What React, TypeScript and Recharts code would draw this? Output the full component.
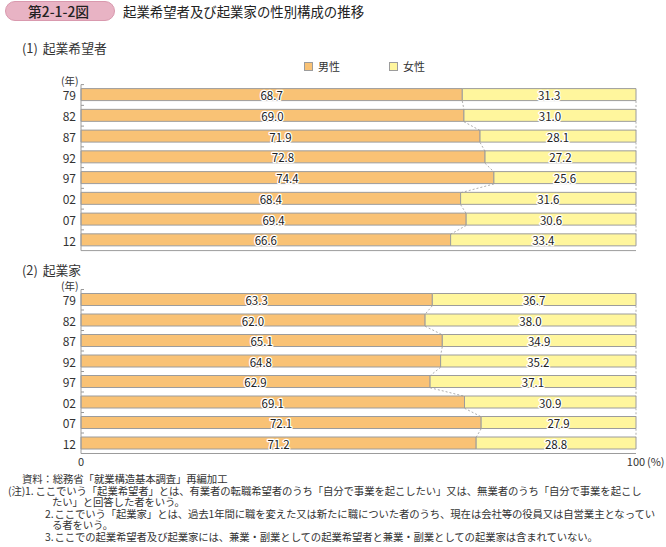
import {
  BarChart,
  Bar,
  XAxis,
  YAxis,
  ReferenceLine,
  LabelList,
} from 'recharts';

const years = ['79', '82', '87', '92', '97', '02', '07', '12'];
const hopefulMale = [68.7, 69.0, 71.9, 72.8, 74.4, 68.4, 69.4, 66.6];
const hopefulFemale = [31.3, 31.0, 28.1, 27.2, 25.6, 31.6, 30.6, 33.4];
const founderMale = [63.3, 62.0, 65.1, 64.8, 62.9, 69.1, 72.1, 71.2];
const founderFemale = [36.7, 38.0, 34.9, 35.2, 37.1, 30.9, 27.9, 28.8];
const xTicks = [0, 100];

const MALE = '#F9C275';
const FEMALE = '#FFF69D';
const EDGE = '#9C9C9C';
const FONT = '"Noto Sans CJK JP", "Noto Sans", sans-serif';
const BAR = 12;

const buildRows = (male: number[], female: number[]) =>
  years.map((y, i) => ({ year: y, male: male[i], female: female[i] }));

const renderValue = (props: any) => {
  const { x, y, width, height, value } = props;
  return (
    <text
      x={x + width / 2}
      y={y + height / 2 + 0.5}
      textAnchor='middle'
      dominantBaseline='central'
      fontSize={11.5}
      fontFamily={FONT}
      fill='#222'
      stroke='#fff'
      strokeWidth={2.5}
      strokeLinejoin='round'
      paintOrder='stroke'
    >
      {Number(value).toFixed(1)}
    </text>
  );
};

// dashed link from the bottom of one bar to the top of the next
const Connector = (props: any) => (
  <line
    x1={props.x1}
    y1={props.y1 + BAR / 2}
    x2={props.x2}
    y2={props.y2 - BAR / 2}
    stroke='#999'
    strokeWidth={0.8}
    strokeDasharray='2 2'
  />
);

type PanelProps = {
  male: number[];
  female: number[];
  top: number;
  height: number;
  marginTop: number;
  marginBottom: number;
  showTicks: boolean;
};

function Panel({ male, female, top, height, marginTop, marginBottom, showTicks }: PanelProps) {
  const rows = buildRows(male, female);
  const xHeight = showTicks ? 20 : 1;
  const plotH = height - marginTop - marginBottom - xHeight;
  const step = plotH / years.length;

  const YTick = (p: any) => (
    <g>
      <text
        x={p.x - 5}
        y={p.y}
        textAnchor='end'
        dominantBaseline='central'
        fontSize={12}
        fontFamily={FONT}
        fill='#333'
      >
        {p.payload.value}
      </text>
      <line x1={p.x} x2={p.x + 3} y1={p.y - step / 2} y2={p.y - step / 2} stroke='#999' />
    </g>
  );

  const XTick = (p: any) => (
    <g>
      <text x={p.x} y={p.y} dy='0.8em' textAnchor='middle' fontSize={11} fontFamily={FONT} fill='#333'>
        {p.payload.value}
      </text>
      {p.payload.value === 100 && (
        <text x={p.x + 11} y={p.y} dy='0.8em' textAnchor='start' fontSize={11} fontFamily={FONT} fill='#333'>
          (%)
        </text>
      )}
    </g>
  );

  return (
    <div style={{ position: 'absolute', left: 0, top }}>
      <BarChart
        width={666}
        height={height}
        data={rows}
        layout='vertical'
        barSize={BAR}
        margin={{ top: marginTop, right: 30, bottom: marginBottom, left: 0 }}
      >
        <XAxis
          type='number'
          domain={[0, 100]}
          ticks={xTicks}
          height={xHeight}
          axisLine={{ stroke: EDGE }}
          tickLine={false}
          tickSize={0}
          tickMargin={4}
          tick={showTicks ? XTick : false}
        />
        <YAxis
          type='category'
          dataKey='year'
          width={81}
          axisLine={{ stroke: EDGE }}
          tickLine={false}
          tickSize={0}
          tickMargin={0}
          tick={YTick}
          interval={0}
        />
        <Bar dataKey='male' stackId='s' fill={MALE} stroke={EDGE} strokeWidth={1} isAnimationActive={false}>
          <LabelList dataKey='male' content={renderValue} />
        </Bar>
        <Bar dataKey='female' stackId='s' fill={FEMALE} stroke={EDGE} strokeWidth={1} isAnimationActive={false}>
          <LabelList dataKey='female' content={renderValue} />
        </Bar>
        {rows.slice(0, -1).map((r, i) => (
          <ReferenceLine
            key={'m' + i}
            segment={[
              { x: r.male, y: r.year },
              { x: rows[i + 1].male, y: rows[i + 1].year },
            ]}
            ifOverflow='visible'
            shape={Connector}
          />
        ))}
        {rows.slice(0, -1).map((r, i) => (
          <ReferenceLine
            key={'e' + i}
            segment={[
              { x: 100, y: r.year },
              { x: 100, y: rows[i + 1].year },
            ]}
            ifOverflow='visible'
            shape={Connector}
          />
        ))}
      </BarChart>
    </div>
  );
}

const txt = (extra: any) => ({
  position: 'absolute' as const,
  fontFamily: FONT,
  color: '#333',
  whiteSpace: 'nowrap' as const,
  ...extra,
});

const note = (left: number, top: number) =>
  txt({ left, top, fontSize: 10.4, lineHeight: '10px', letterSpacing: '-0.12px' });

export default function App() {
  return (
    <div style={{ position: 'absolute', left: 0, top: 0, width: 666, height: 547, background: '#fff', overflow: 'hidden' }}>
      {/* heading */}
      <div
        style={{
          position: 'absolute',
          left: 5,
          top: 1,
          width: 110,
          height: 20,
          borderRadius: 10,
          background: '#E8B3C4',
          border: '1px solid #D999AE',
          boxSizing: 'border-box',
        }}
      />
      <div style={txt({ left: 28, top: 2, fontSize: 13.8, lineHeight: '18px', fontWeight: 500, color: '#222' })}>
        第2-1-2図
      </div>
      <div style={txt({ left: 123, top: 2, fontSize: 13.4, lineHeight: '18px', color: '#222' })}>
        起業希望者及び起業家の性別構成の推移
      </div>

      <div style={txt({ left: 22, top: 39, fontSize: 12.8, lineHeight: '18px' })}>
        (1)<span style={{ marginLeft: 5 }}>起業希望者</span>
      </div>
      <div style={txt({ left: 22, top: 261, fontSize: 12.8, lineHeight: '18px' })}>
        (2)<span style={{ marginLeft: 5 }}>起業家</span>
      </div>

      {/* legend */}
      <div style={{ position: 'absolute', left: 304, top: 62, width: 9, height: 9, background: MALE, border: `1px solid ${EDGE}`, boxSizing: 'border-box' }} />
      <div style={txt({ left: 318, top: 59, fontSize: 11, lineHeight: '14px' })}>男性</div>
      <div style={{ position: 'absolute', left: 389, top: 62, width: 9, height: 9, background: FEMALE, border: `1px solid ${EDGE}`, boxSizing: 'border-box' }} />
      <div style={txt({ left: 403, top: 59, fontSize: 11, lineHeight: '14px' })}>女性</div>

      <div style={txt({ left: 61, top: 75, fontSize: 10.5, lineHeight: '12px' })}>(年)</div>
      <div style={txt({ left: 61, top: 280, fontSize: 10.5, lineHeight: '12px' })}>(年)</div>

      <Panel
        male={hopefulMale}
        female={hopefulFemale}
        top={80}
        height={180}
        marginTop={4.6}
        marginBottom={8.4}
        showTicks={false}
      />
      <Panel
        male={founderMale}
        female={founderFemale}
        top={280}
        height={200}
        marginTop={9.5}
        marginBottom={6.5}
        showTicks
      />

      {/* notes */}
      <div style={note(22, 474)}>資料：総務省「就業構造基本調査」再編加工</div>
      <div style={note(8, 485.5)}>
        (注)1.<span style={{ marginLeft: 2 }}>ここでいう「起業希望者」とは、有業者の転職希望者のうち「自分で事業を起こしたい」又は、無業者のうち「自分で事業を起こし</span>
      </div>
      <div style={note(52, 497)}>たい」と回答した者をいう。</div>
      <div style={note(45, 508.5)}>
        2.<span style={{ marginLeft: 1 }}>ここでいう「起業家」とは、過去1年間に職を変えた又は新たに職についた者のうち、現在は会社等の役員又は自営業主となってい</span>
      </div>
      <div style={note(52, 520)}>る者をいう。</div>
      <div style={note(45, 531.5)}>
        3.<span style={{ marginLeft: 1 }}>ここでの起業希望者及び起業家には、兼業・副業としての起業希望者と兼業・副業としての起業家は含まれていない。</span>
      </div>
    </div>
  );
}
